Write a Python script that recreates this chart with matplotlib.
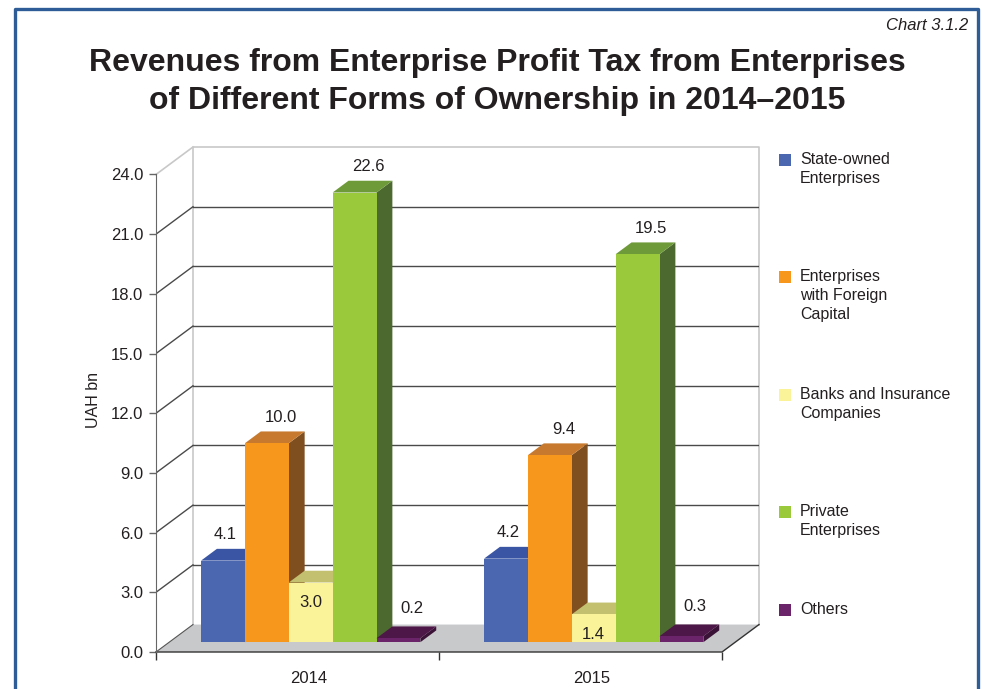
import matplotlib
matplotlib.use("Agg")
import matplotlib.pyplot as plt
from matplotlib.patches import Polygon, Rectangle
from matplotlib.lines import Line2D

plt.rcParams['font.family'] = ['Liberation Sans', 'DejaVu Sans']

YEARS = ['2014', '2015']
SERIES = ['State-owned\nEnterprises', 'Enterprises\nwith Foreign\nCapital',
          'Banks and Insurance\nCompanies', 'Private\nEnterprises', 'Others']
STATE = [4.1, 4.2]
FOREIGN = [10.0, 9.4]
BANKS = [3.0, 1.4]
PRIVATE = [22.6, 19.5]
OTHERS = [0.2, 0.3]
YTICKS = [0, 3, 6, 9, 12, 15, 18, 21, 24]

# front / top / side shades per series
FRONT = ['#4a67b0', '#f7981d', '#faf39a', '#9aca3c', '#6b2369']
TOP = ['#3a55a3', '#c77a2e', '#c3c070', '#6e9a3a', '#4d1747']
SIDE = ['#2f4583', '#7f4f20', '#a09d55', '#4c6a2f', '#3b1237']

DX, DY = 0.1307, 1.38      # full depth offset in data units
D0, D1 = 0.357, 0.786      # bar depth range (fraction of floor depth)
W = 0.155                  # bar width
TXT = '#231f20'

W_PX, H_PX = 982, 689
fig = plt.figure(figsize=(W_PX / 100, H_PX / 100), dpi=100)
ax = fig.add_axes([156 / W_PX, 37 / H_PX, 603 / W_PX, 505 / H_PX])
ax.set_xlim(-0.5, 1.5 + DX)
ax.set_ylim(0, 24 + DY)
ax.patch.set_visible(False)


def shift(x, y, d):
    return (x + d * DX, y + d * DY)


# floor
floor = Polygon([(-0.5, 0), (1.5, 0), shift(1.5, 0, 1), shift(-0.5, 0, 1)],
                closed=True, facecolor='#c8c9cb', edgecolor='none', zorder=1)
ax.add_patch(floor)
ax.plot([-0.5, 1.5, 1.5 + DX], [0, 0, DY], color='#333333', lw=1, zorder=2, clip_on=False)
ax.plot([-0.5, -0.5 + DX], [0, DY], color='#555555', lw=0.8, zorder=2, clip_on=False)

# walls
ax.plot([-0.5 + DX, -0.5 + DX, 1.5 + DX, 1.5 + DX], [DY, 24 + DY, 24 + DY, DY],
        color='#c8c8c8', lw=1.2, zorder=1, clip_on=False)
ax.plot([-0.5, -0.5 + DX], [24, 24 + DY], color='#c8c8c8', lw=1.2, zorder=1, clip_on=False)
for v in YTICKS[1:-1]:
    ax.plot([-0.5 + DX, 1.5 + DX], [v + DY, v + DY], color='#4a4a4a', lw=1, zorder=1)
    ax.plot([-0.5, -0.5 + DX], [v, v + DY], color='#4a4a4a', lw=1, zorder=1)

# bars
values = [STATE, FOREIGN, BANKS, PRIVATE, OTHERS]
z = 3
for gi in range(len(YEARS)):
    left = gi - len(values) * W / 2
    for si, vals in enumerate(values):
        v = vals[gi]
        x0 = left + si * W
        x1 = x0 + W
        front = [shift(x0, 0, D0), shift(x1, 0, D0), shift(x1, v, D0), shift(x0, v, D0)]
        top = [shift(x0, v, D0), shift(x1, v, D0), shift(x1, v, D1), shift(x0, v, D1)]
        side = [shift(x1, 0, D0), shift(x1, 0, D1), shift(x1, v, D1), shift(x1, v, D0)]
        ax.add_patch(Polygon(side, closed=True, facecolor=SIDE[si], edgecolor='none', zorder=z))
        ax.add_patch(Polygon(top, closed=True, facecolor=TOP[si], edgecolor='none', zorder=z))
        ax.add_patch(Polygon(front, closed=True, facecolor=FRONT[si], edgecolor='none', zorder=z + 0.5))
        z += 1
        if si == 2:
            lx, ly = shift(x0 + W / 2, v - 1.0, D0)
        elif si == 0:
            lx = x0 + W / 2 + DX * D0 + 0.008
            ly = v + D1 * DY + 0.72
        else:
            lx = x0 + W / 2 + DX * (D0 + D1) / 2 + 0.02
            ly = v + D1 * DY + (0.9 if si == 4 else 0.72)
        ax.text(lx, ly, f'{v:.1f}', ha='center', va='center', fontsize=12,
                color=TXT, zorder=50)

# axes
for s in ['top', 'right']:
    ax.spines[s].set_visible(False)
ax.spines['left'].set_bounds(0, 24)
ax.spines['left'].set_color('#666666')
ax.spines['bottom'].set_visible(False)
ax.set_yticks(YTICKS)
ax.set_yticklabels([f'{t:.1f}' for t in YTICKS])
ax.tick_params(axis='y', length=5, width=1, color='#666666', pad=4,
               labelsize=12, labelcolor=TXT)
ax.set_xticks([-0.5, 0.5, 1.5])
ax.set_xticklabels(['', '', ''])
ax.tick_params(axis='x', which='major', length=6, width=1, color='#333333')
ax.set_xticks([0.04, 1.04], minor=True)
ax.set_xticklabels(YEARS, minor=True)
ax.tick_params(axis='x', which='minor', length=0, pad=14, labelsize=12,
               labelcolor=TXT)
ax.set_ylabel('UAH bn', fontsize=11.5, color=TXT, labelpad=7)

# titles
fig.text(968 / W_PX, 1 - 25 / H_PX, 'Chart 3.1.2', ha='right', va='center',
         fontsize=12, style='italic', color=TXT)
fig.text(497 / W_PX, 1 - 82 / H_PX,
         'Revenues from Enterprise Profit Tax from Enterprises\n'
         'of Different Forms of Ownership in 2014\u20132015',
         ha='center', va='center', fontsize=23, fontweight='bold',
         color=TXT, linespacing=1.38)

# legend
leg_y = [160, 277, 395, 512, 610]
for name, col, yp in zip(SERIES, FRONT, leg_y):
    fig.patches.append(Rectangle((779 / W_PX, 1 - (yp + 6) / H_PX), 12 / W_PX, 12 / H_PX,
                                 transform=fig.transFigure, facecolor=col, edgecolor='none'))
    fig.text(800 / W_PX, 1 - (yp - 8) / H_PX, name, ha='left', va='top', fontsize=11.5,
             color=TXT, linespacing=1.32)

# frame
fig.add_artist(Line2D([15 / W_PX, 15 / W_PX, 978 / W_PX, 978 / W_PX],
                      [0, 1 - 9 / H_PX, 1 - 9 / H_PX, 0],
                      transform=fig.transFigure, color='#2d5c96', lw=2.4))

fig.savefig('out.png', dpi=100)
